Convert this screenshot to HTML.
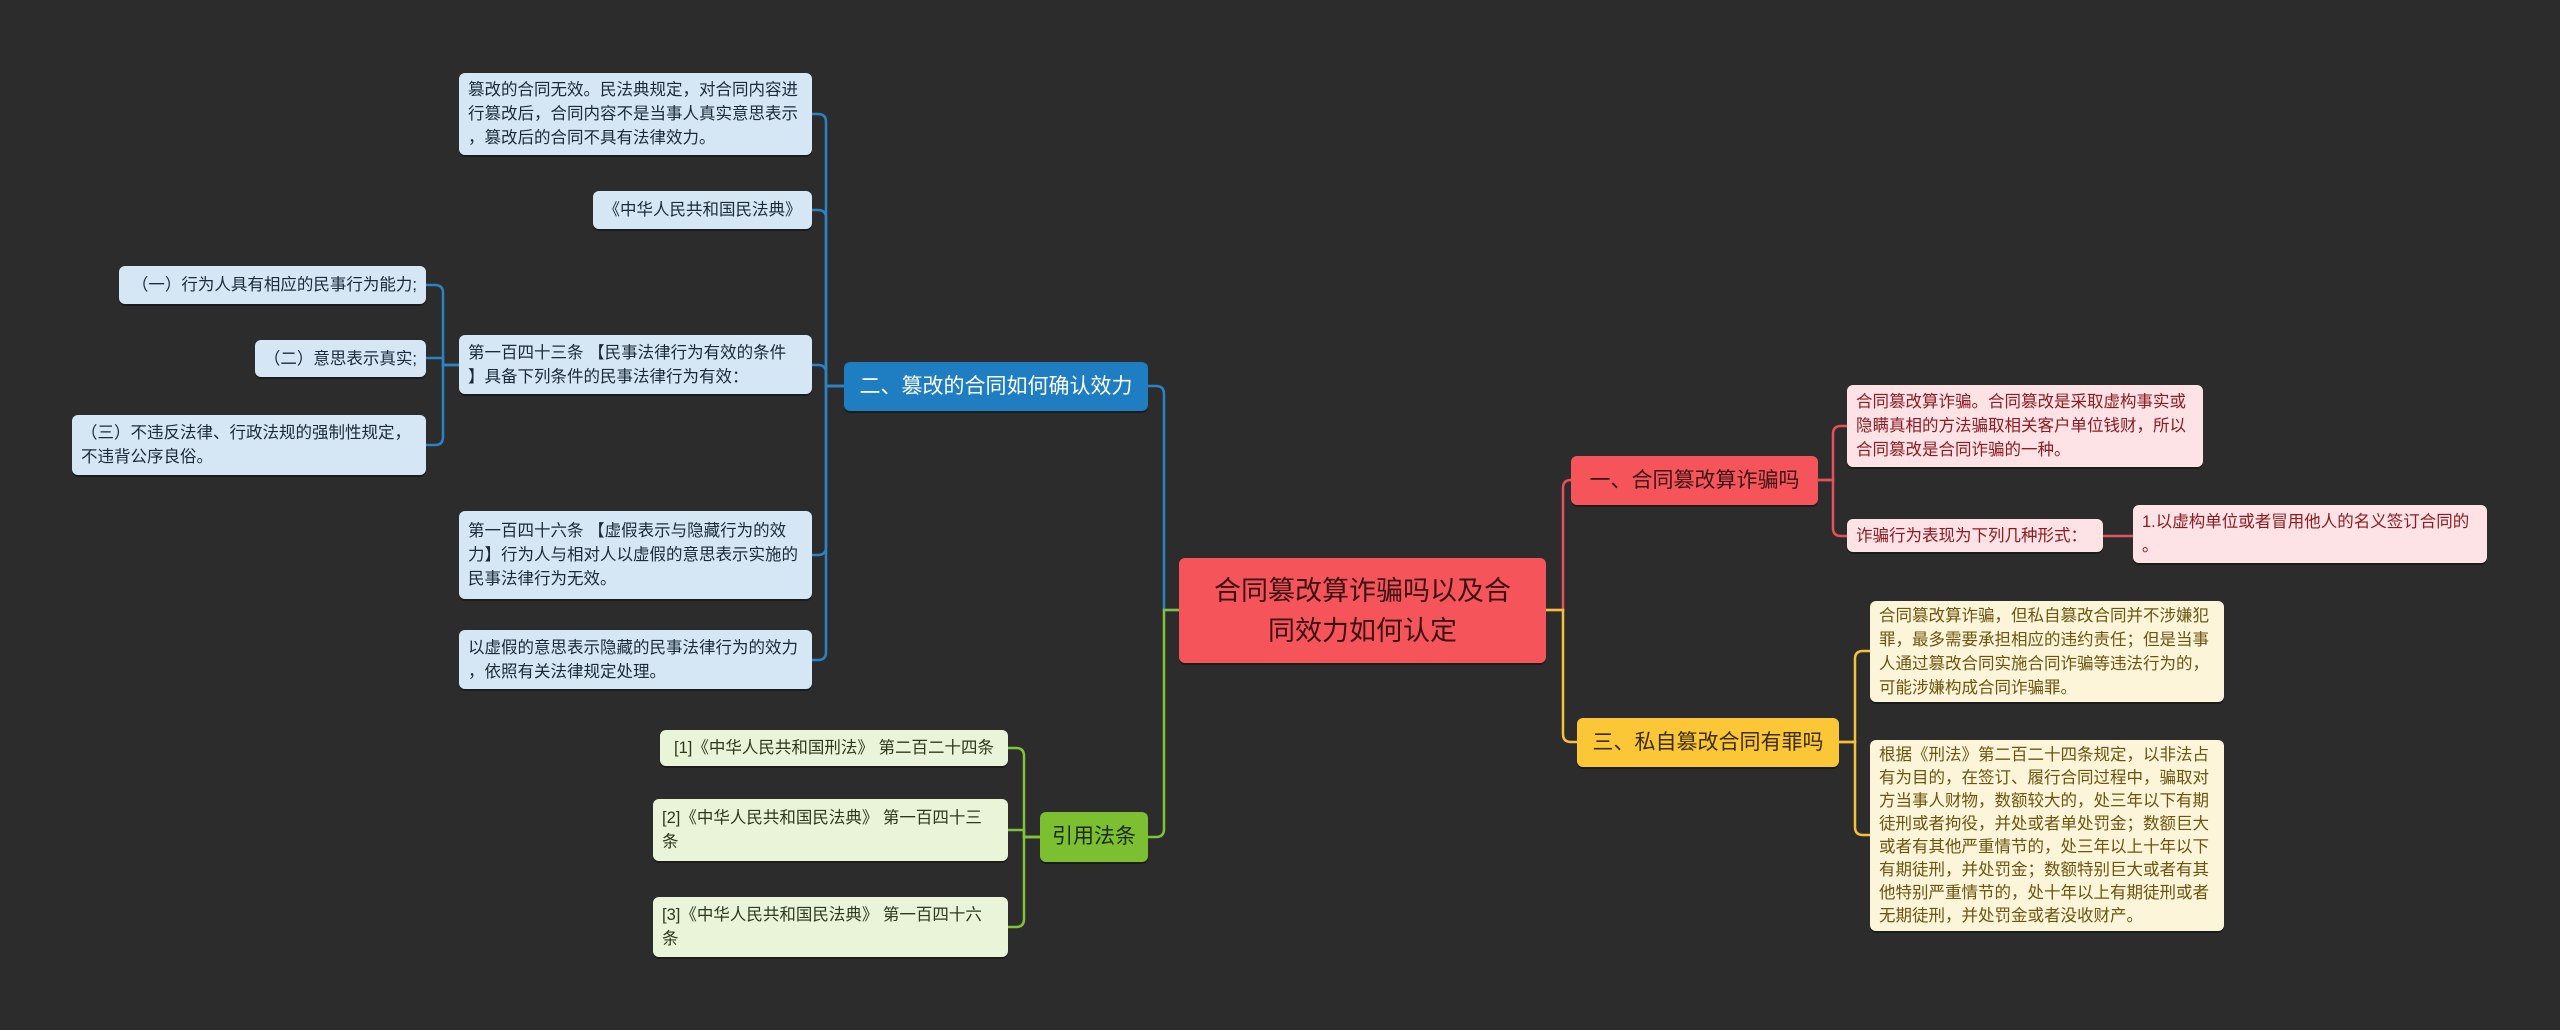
<!DOCTYPE html>
<html><head><meta charset="utf-8"><style>
html,body{margin:0;padding:0;}
body{width:2560px;height:1030px;background:#2c2c2c;position:relative;overflow:hidden;font-family:"Liberation Sans","Noto Sans CJK SC",sans-serif;}
.b{position:absolute;box-sizing:border-box;border-radius:6px;font-size:16.5px;line-height:24px;padding:0 9px;display:flex;align-items:center;white-space:nowrap;box-shadow:0 2px 0 rgba(0,0,0,.35);}
.bl{background:#d5e7f4;color:#1c2a36;}
.pk{background:#fde3e5;color:#8e1b22;}
.yl{background:#fdf5d9;color:#6d5510;}
.gr{background:#e9f4d8;color:#2c3a1a;}
.m{justify-content:center;font-size:21px;color:#fff;}
svg{position:absolute;left:0;top:0;}
</style></head><body>
<svg width="2560" height="1030" fill="none" stroke-width="2.5">
<g stroke="#2a83c6">
<path d="M844 386 H826 V122 Q826 114 818 114 H812"/>
<path d="M844 386 H826 V218 Q826 210 818 210 H812"/>
<path d="M844 386 H826 V373 Q826 365 818 365 H812"/>
<path d="M844 386 H826 V547 Q826 555 818 555 H812"/>
<path d="M844 386 H826 V652 Q826 660 818 660 H812"/>
<path d="M459 365 H443 V293 Q443 285 435 285 H426"/>
<path d="M459 365 H443 V358 H426"/>
<path d="M459 365 H443 V437 Q443 445 435 445 H426"/>
<path d="M1179 610 H1164 V394 Q1164 386 1156 386 H1148"/>
</g>
<g stroke="#82c23a">
<path d="M1179 610 H1164 V829 Q1164 837 1156 837 H1148"/>
<path d="M1040 837 H1024 V756 Q1024 748 1016 748 H1008"/>
<path d="M1040 837 H1024 V830 H1008"/>
<path d="M1040 837 H1024 V919 Q1024 927 1016 927 H1008"/>
</g>
<g stroke="#e5505a">
<path d="M1546 610 H1563 V488 Q1563 480 1571 480"/>
<path d="M1818 480 H1833 V434 Q1833 426 1841 426 H1847"/>
<path d="M1818 480 H1833 V528 Q1833 536 1841 536 H1847"/>
<path d="M2103 536 H2133"/>
</g>
<g stroke="#f5c13a">
<path d="M1546 610 H1563 V734 Q1563 742 1571 742 H1577"/>
<path d="M1839 742 H1855 V659 Q1855 651 1863 651 H1870"/>
<path d="M1839 742 H1855 V827 Q1855 835 1863 835 H1870"/>
</g>
</svg>

<div class="b bl" style="left:459px;top:73px;width:353px;height:82px;">篡改的合同无效。民法典规定，对合同内容进<br>行篡改后，合同内容不是当事人真实意思表示<br>，篡改后的合同不具有法律效力。</div>
<div class="b bl" style="left:593px;top:191px;width:219px;height:38px;justify-content:center;">《中华人民共和国民法典》</div>
<div class="b bl" style="left:119px;top:266px;width:307px;height:38px;justify-content:flex-end;">（一）行为人具有相应的民事行为能力;</div>
<div class="b bl" style="left:255px;top:340px;width:171px;height:37px;justify-content:flex-end;">（二）意思表示真实;</div>
<div class="b bl" style="left:72px;top:415px;width:354px;height:60px;">（三）不违反法律、行政法规的强制性规定，<br>不违背公序良俗。</div>
<div class="b bl" style="left:459px;top:335px;width:353px;height:59px;">第一百四十三条 【民事法律行为有效的条件<br>】具备下列条件的民事法律行为有效：</div>
<div class="b bl" style="left:459px;top:511px;width:353px;height:88px;">第一百四十六条 【虚假表示与隐藏行为的效<br>力】行为人与相对人以虚假的意思表示实施的<br>民事法律行为无效。</div>
<div class="b bl" style="left:459px;top:630px;width:353px;height:59px;">以虚假的意思表示隐藏的民事法律行为的效力<br>，依照有关法律规定处理。</div>

<div class="b m" style="left:844px;top:362px;width:304px;height:49px;background:#1f7dc2;">二、篡改的合同如何确认效力</div>
<div class="b m" style="left:1179px;top:558px;width:367px;height:105px;background:#f6545b;font-size:27px;line-height:40px;text-align:center;white-space:normal;color:#3a1214;">合同篡改算诈骗吗以及合<br>同效力如何认定</div>
<div class="b m" style="left:1040px;top:812px;width:108px;height:50px;background:#7cbf30;color:#1e2a10;">引用法条</div>

<div class="b gr" style="left:660px;top:730px;width:348px;height:36px;justify-content:center;">[1]《中华人民共和国刑法》 第二百二十四条</div>
<div class="b gr" style="left:653px;top:799px;width:355px;height:62px;">[2]《中华人民共和国民法典》 第一百四十三<br>条</div>
<div class="b gr" style="left:653px;top:897px;width:355px;height:60px;">[3]《中华人民共和国民法典》 第一百四十六<br>条</div>

<div class="b m" style="left:1571px;top:456px;width:247px;height:49px;background:#f6545b;color:#3a1214;">一、合同篡改算诈骗吗</div>
<div class="b pk" style="left:1847px;top:385px;width:356px;height:82px;">合同篡改算诈骗。合同篡改是采取虚构事实或<br>隐瞒真相的方法骗取相关客户单位钱财，所以<br>合同篡改是合同诈骗的一种。</div>
<div class="b pk" style="left:1847px;top:519px;width:256px;height:33px;">诈骗行为表现为下列几种形式：</div>
<div class="b pk" style="left:2133px;top:505px;width:354px;height:58px;">1.以虚构单位或者冒用他人的名义签订合同的<br>。</div>

<div class="b m" style="left:1577px;top:718px;width:262px;height:49px;background:#fbc737;color:#3a2c05;">三、私自篡改合同有罪吗</div>
<div class="b yl" style="left:1870px;top:601px;width:354px;height:101px;">合同篡改算诈骗，但私自篡改合同并不涉嫌犯<br>罪，最多需要承担相应的违约责任；但是当事<br>人通过篡改合同实施合同诈骗等违法行为的，<br>可能涉嫌构成合同诈骗罪。</div>
<div class="b yl" style="left:1870px;top:740px;width:354px;height:191px;line-height:23px;">根据《刑法》第二百二十四条规定，以非法占<br>有为目的，在签订、履行合同过程中，骗取对<br>方当事人财物，数额较大的，处三年以下有期<br>徒刑或者拘役，并处或者单处罚金；数额巨大<br>或者有其他严重情节的，处三年以上十年以下<br>有期徒刑，并处罚金；数额特别巨大或者有其<br>他特别严重情节的，处十年以上有期徒刑或者<br>无期徒刑，并处罚金或者没收财产。</div>
</body></html>
